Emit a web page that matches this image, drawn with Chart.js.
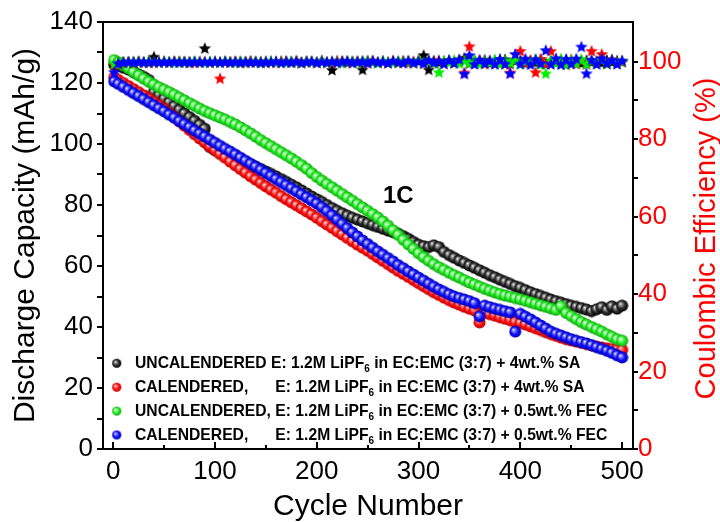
<!DOCTYPE html>
<html>
<head>
<meta charset="utf-8">
<script src="https://cdn.jsdelivr.net/npm/chart.js@4.4.1/dist/chart.umd.min.js"></script>
<style>
html,body{margin:0;padding:0;background:#fff;}
#wrap{width:720px;height:522px;}
</style>
</head>
<body>
<div id="wrap"><canvas id="c" width="720" height="522"></canvas></div>
<script>
// ---------------- DATA ----------------
const cycles = [
  1,5,10,15,20,25,30,35,40,45,
  50,55,60,65,70,75,80,85,90,95,
  100,105,110,115,120,125,130,135,140,145,
  150,155,160,165,170,175,180,185,190,195,
  200,205,210,215,220,225,230,235,240,245,
  250,255,260,265,270,275,280,285,290,295,
  300,305,310,315,320,325,330,335,340,345,
  350,355,360,365,370,375,380,385,390,395,
  400,405,410,415,420,425,430,435,440,445,
  450,455,460,465,470,475,480,485,490,495,
  500];

// Discharge capacity (mAh/g)
const capUncalSA = [
  126.0,125.6,125.0,124.4,123.6,122.8,122.0,121.0,117.0,116.0,
  114.8,113.6,112.4,111.2,110.0,108.8,107.6,106.3,105.0,99.0,
  98.0,97.3,96.6,95.9,95.2,94.6,94.0,93.3,92.6,91.8,
  91.0,90.2,89.4,88.5,87.6,86.7,85.8,84.8,83.8,82.8,
  81.9,81.0,80.0,79.0,78.1,77.3,76.5,75.8,75.2,74.6,
  74.0,73.4,72.8,72.2,71.6,71.1,70.6,69.8,68.9,67.9,
  67.0,66.5,66.2,66.8,66.2,64.6,63.6,62.7,61.8,61.0,
  60.2,59.4,58.6,57.8,57.0,56.3,55.5,54.8,54.1,53.4,
  52.8,52.1,51.4,50.8,50.2,49.6,49.0,48.5,48.0,47.5,
  47.0,46.6,46.2,45.7,45.2,45.8,46.5,45.6,46.8,46.0,
  47.0];
const capCalSA = [
  121.8,121.0,120.0,119.0,118.0,117.0,116.0,114.9,113.8,112.7,
  111.5,110.2,108.8,107.4,106.0,104.6,103.2,101.8,100.5,99.2,
  98.0,96.7,95.5,94.2,93.0,91.8,90.6,89.4,88.3,87.2,
  86.1,85.0,84.0,82.9,81.9,80.9,79.9,78.9,77.9,76.9,
  75.8,74.7,73.6,72.5,71.4,70.3,69.2,68.1,67.0,66.0,
  65.0,63.9,62.8,61.7,60.6,59.5,58.4,57.4,56.4,55.4,
  54.4,53.4,52.4,51.4,50.5,49.6,48.8,48.0,47.3,46.6,
  46.0,45.4,41.5,44.6,44.2,43.7,43.2,42.7,42.2,41.7,
  41.3,40.8,40.2,39.6,39.0,38.3,37.7,37.1,36.5,36.0,
  35.6,35.2,34.8,34.4,34.0,33.6,33.3,33.0,32.8,32.6,
  32.5];
const capUncalFEC = [
  127.5,126.8,125.8,124.8,123.6,122.5,121.4,120.4,119.5,118.6,
  117.8,117.0,116.1,115.2,114.3,113.4,112.5,111.6,110.8,110.1,
  109.4,108.7,108.0,107.2,106.4,105.5,104.5,103.5,102.4,101.3,
  100.3,99.3,98.3,97.3,96.3,95.3,94.2,93.1,91.9,90.5,
  89.2,88.0,86.9,85.8,84.7,83.6,82.5,81.4,80.3,79.2,
  78.1,77.0,75.9,74.6,73.2,71.7,70.2,68.6,67.1,65.6,
  64.2,62.9,61.7,60.6,59.6,58.7,57.8,57.0,56.2,55.4,
  54.6,53.9,53.2,52.5,51.9,51.3,50.8,50.3,49.9,49.5,
  49.1,48.6,48.1,47.6,47.1,46.6,46.1,45.6,46.8,44.6,
  43.6,42.6,41.6,40.8,40.0,39.3,38.5,37.6,36.8,36.0,
  35.5];
const capCalFEC = [
  120.5,119.7,118.7,117.7,116.7,115.7,114.7,113.7,112.7,111.7,
  110.7,109.6,108.6,107.5,106.5,105.5,104.4,103.4,102.4,101.4,
  100.4,99.4,98.4,97.5,96.5,95.5,94.5,93.5,92.5,91.5,
  90.5,89.5,88.5,87.5,86.5,85.5,84.5,83.5,82.5,81.5,
  80.5,79.3,78.0,76.6,75.2,73.8,72.4,71.0,69.7,68.4,
  67.2,66.0,64.8,63.7,62.6,61.5,60.3,59.3,58.2,57.2,
  56.2,55.2,54.2,53.2,52.3,51.5,50.7,50.0,49.5,49.0,
  48.5,47.8,43.5,47.0,46.5,46.0,45.6,45.2,44.8,38.5,
  44.3,43.4,42.5,41.5,40.5,39.5,38.5,37.8,37.2,36.6,
  36.0,35.5,35.0,34.6,34.0,33.4,32.8,32.2,31.5,30.7,
  30.0];

// Coulombic efficiency (%)
const ceUncalSA = [
  99.0,99.6,99.8,99.9,99.8,100.0,99.9,99.8,101.3,99.9,
  100.0,99.9,100.1,99.9,100.0,99.8,100.0,99.9,103.5,99.9,
  100.0,99.9,100.1,99.9,100.0,99.8,100.0,100.1,99.9,100.0,
  99.8,100.1,100.0,99.9,100.2,99.9,100.0,99.8,100.1,100.0,
  99.9,100.3,99.8,97.9,100.0,100.2,99.8,100.1,100.0,98.0,
  100.3,100.0,99.8,100.2,99.9,100.1,99.8,100.2,100.0,99.7,
  100.2,101.7,98.0,100.3,99.8,100.1,100.4,99.7,100.2,101.0,
  99.6,100.3,99.8,100.5,99.6,100.2,99.9,100.6,99.5,100.2,
  100.4,99.6,100.3,99.8,100.6,99.5,100.2,100.0,99.7,100.5,
  99.8,100.3,99.6,100.4,99.9,100.2,99.7,100.5,99.9,100.3,
  100.0];
const ceCalSA = [
  99.2,99.7,99.9,100.0,99.9,100.1,99.9,100.0,99.8,100.0,
  100.1,99.9,100.0,100.1,99.9,100.0,99.8,100.1,100.0,99.9,
  100.1,95.7,100.0,99.9,100.1,100.0,99.8,100.2,100.0,99.9,
  100.1,100.0,99.8,100.2,100.0,99.9,100.3,99.8,100.1,100.0,
  99.8,100.2,100.0,99.7,100.3,99.9,100.1,99.8,100.2,100.0,
  99.7,100.3,99.9,100.1,99.7,100.3,99.9,100.2,99.7,100.1,
  100.3,99.6,100.2,99.8,100.4,99.6,100.2,99.9,100.5,97.2,
  104.0,99.7,100.4,99.5,100.3,99.8,100.6,99.4,97.2,100.5,
  102.8,99.6,100.4,97.3,100.7,99.4,102.8,99.7,100.5,99.3,
  100.6,99.5,100.3,99.4,102.8,99.8,102.0,99.5,100.6,99.7,
  100.1];
const ceUncalFEC = [
  99.5,99.8,100.0,99.9,100.1,100.0,99.9,100.1,100.0,99.9,
  100.1,100.0,99.8,100.1,100.0,99.9,100.2,100.0,99.8,100.1,
  100.0,99.9,100.1,100.0,99.8,100.2,99.9,100.0,100.1,99.8,
  100.0,100.2,99.9,100.0,99.8,100.2,100.0,99.8,100.1,100.0,
  99.9,100.2,99.8,100.1,100.0,99.7,100.2,100.0,99.8,100.3,
  99.9,100.1,99.7,100.2,100.0,99.8,100.3,99.9,100.1,99.7,
  100.4,99.8,100.2,99.6,97.3,100.3,99.8,100.5,99.6,100.3,
  99.7,100.5,99.5,100.2,99.8,100.6,99.4,100.3,99.7,100.5,
  99.4,100.2,99.8,100.7,99.3,97.0,100.4,99.6,100.8,99.3,
  100.5,99.6,100.7,99.4,100.3,99.6,100.6,99.5,100.4,99.8,
  100.2];
const ceCalFEC = [
  97.3,99.6,99.9,100.0,99.9,100.0,99.9,100.0,100.0,99.9,
  100.0,99.9,100.0,99.9,100.0,99.9,100.0,99.9,100.0,99.9,
  100.0,99.9,100.0,99.9,100.0,99.9,100.0,99.9,100.0,99.8,
  100.0,99.9,100.1,99.8,100.0,99.9,100.1,99.8,100.0,100.1,
  99.8,100.0,99.9,100.1,99.8,100.0,100.2,99.8,100.0,100.1,
  99.7,100.2,99.9,100.0,99.7,100.2,100.0,99.7,100.3,99.8,
  100.1,99.6,100.4,99.8,100.2,99.5,100.4,99.7,100.6,96.9,
  101.7,99.4,100.5,99.6,100.3,99.4,100.7,99.5,97.0,102.0,
  99.5,100.8,99.3,100.6,99.6,103.0,99.4,100.9,99.3,100.7,
  99.5,100.8,103.9,97.0,100.5,99.4,100.9,99.6,100.5,99.4,
  100.3];

// Tick values and labels
const xTicks  = [0,50,100,150,200,250,300,350,400,450,500];
const xLabels = [0,100,200,300,400,500];
const yTicks  = [0,10,20,30,40,50,60,70,80,90,100,110,120,130,140];
const yLabels = [0,20,40,60,80,100,120,140];
const y1Ticks = [0,10,20,30,40,50,60,70,80,90,100];
const y1Labels= [0,20,40,60,80,100];

// Series text
const seriesTags = ['UNCALENDERED', 'CALENDERED,', 'UNCALENDERED,', 'CALENDERED,'];
const saltText   = ['E: 1.2M LiPF', '6', ' in EC:EMC (3:7) + '];
const additives  = ['4wt.% SA', '4wt.% SA', '0.5wt.% FEC', '0.5wt.% FEC'];
const rateLabel  = {text: '1C', x: 265, y: 80.7};

// ---------------- STYLE ----------------
const FONT = '"Liberation Sans", Arial, Helvetica, sans-serif';
const sphereColors = [
  {light:'#a0a0a0', base:'#303030', dark:'#000000'},
  {light:'#ff9090', base:'#ff1010', dark:'#c00000'},
  {light:'#a8ffa8', base:'#22ee22', dark:'#10a010'},
  {light:'#9090ff', base:'#1010ff', dark:'#0000b0'}
];
const starColors = ['#000000', '#ff0000', '#00ee00', '#0000ff'];

function makeSphere(c, r) {
  const s = Math.ceil(r * 2) + 1;
  const cv = document.createElement('canvas');
  cv.width = cv.height = s;
  const g = cv.getContext('2d');
  const m = s / 2;
  const grad = g.createRadialGradient(m - r * 0.35, m - r * 0.35, 0, m, m, r);
  grad.addColorStop(0, '#ffffff');
  grad.addColorStop(0.22, c.light);
  grad.addColorStop(0.6, c.base);
  grad.addColorStop(1, c.dark);
  g.fillStyle = grad;
  g.beginPath(); g.arc(m, m, r, 0, Math.PI * 2); g.fill();
  return cv;
}
function makeStar(color, r) {
  const s = Math.ceil(r * 2) + 1;
  const cv = document.createElement('canvas');
  cv.width = cv.height = s;
  const g = cv.getContext('2d');
  const m = s / 2;
  g.fillStyle = color;
  g.beginPath();
  for (let k = 0; k < 10; k++) {
    const rr = k % 2 === 0 ? r : r * 0.45;
    const a = -Math.PI / 2 + k * Math.PI / 5;
    const px = m + rr * Math.cos(a), py = m + 0.6 + rr * Math.sin(a);
    if (k === 0) g.moveTo(px, py); else g.lineTo(px, py);
  }
  g.closePath(); g.fill();
  return cv;
}
const spheres = sphereColors.map(c => makeSphere(c, 6));
const legendSpheres = sphereColors.map(c => makeSphere(c, 4.6));
const stars = starColors.map(c => makeStar(c, 6.5));

const capSeries = [capUncalSA, capCalSA, capUncalFEC, capCalFEC];
const ceSeries  = [ceUncalSA, ceCalSA, ceUncalFEC, ceCalFEC];
const toXY = arr => cycles.map((c, i) => ({x: c, y: arr[i]})).filter(p => p.y !== undefined);

const datasets = [];
capSeries.forEach((arr, i) => {
  datasets.push({
    label: seriesTags[i] + ' E: 1.2M LiPF\u2086 in EC:EMC (3:7) + ' + additives[i] + ' (capacity)',
    data: toXY(arr), yAxisID: 'y',
    pointStyle: spheres[i], pointRadius: 6, order: 7 - i
  });
});
ceSeries.forEach((arr, i) => {
  datasets.push({
    label: seriesTags[i] + ' E: 1.2M LiPF\u2086 in EC:EMC (3:7) + ' + additives[i] + ' (CE)',
    data: toXY(arr), yAxisID: 'y1',
    pointStyle: stars[i], pointRadius: 6, order: 3 - i
  });
});

const decor = {
  id: 'decor',
  afterDraw(chart) {
    const {ctx, chartArea: a, scales} = chart;
    ctx.save();
    ctx.strokeStyle = '#000'; ctx.lineWidth = 2;
    ctx.beginPath(); ctx.moveTo(a.left - 1, a.top); ctx.lineTo(a.right + 1, a.top); ctx.stroke();
    xTicks.forEach(v => {
      const px = Math.round(scales.x.getPixelForValue(v));
      const len = xLabels.includes(v) ? 7 : 4;
      ctx.beginPath(); ctx.moveTo(px, a.bottom); ctx.lineTo(px, a.bottom - len); ctx.stroke();
    });
    ctx.save();
    ctx.translate(a.right + 82, (a.top + a.bottom) / 2 + 3);
    ctx.rotate(-Math.PI / 2);
    ctx.font = '29px ' + FONT;
    ctx.fillStyle = '#ff0000';
    ctx.textAlign = 'center'; ctx.textBaseline = 'alphabetic';
    ctx.fillText('Coulombic Efficiency (%)', 0, 0);
    ctx.restore();
    ctx.font = 'bold 24px ' + FONT;
    ctx.fillStyle = '#000';
    ctx.textAlign = 'left'; ctx.textBaseline = 'alphabetic';
    ctx.fillText(rateLabel.text, scales.x.getPixelForValue(rateLabel.x), scales.y.getPixelForValue(rateLabel.y));
    const fMain = 'bold 15.7px ' + FONT, fSub = 'bold 10px ' + FONT;
    const textX = a.left + 32;
    const markX = a.left + 13.7;
    ctx.font = fMain;
    const colX = textX + ctx.measureText('UNCALENDERED, ').width;
    seriesTags.forEach((tag, i) => {
      const base = a.bottom - 80.7 + i * 23.9;
      const sp = legendSpheres[i];
      ctx.drawImage(sp, markX - sp.width / 2, base - 5 - sp.height / 2);
      ctx.font = fMain; ctx.fillStyle = '#000';
      let x;
      if (i === 0) {
        ctx.fillText(tag + ' ', textX, base);
        x = textX + ctx.measureText(tag + ' ').width;
      } else {
        ctx.fillText(tag, textX, base);
        x = colX;
      }
      ctx.fillText(saltText[0], x, base);
      x += ctx.measureText(saltText[0]).width;
      ctx.font = fSub;
      ctx.fillText(saltText[1], x, base + 3.5);
      x += ctx.measureText(saltText[1]).width;
      ctx.font = fMain;
      ctx.fillText(saltText[2] + additives[i], x, base);
    });
    ctx.restore();
  }
};

const tickFont = {family: FONT, size: 26};

new Chart(document.getElementById('c'), {
  type: 'scatter',
  data: {datasets},
  plugins: [decor],
  options: {
    responsive: false,
    devicePixelRatio: 1,
    animation: false,
    events: [],
    layout: {padding: {top: 22, left: 0, right: 0, bottom: 0}},
    plugins: {legend: {display: false}, tooltip: {enabled: false}},
    scales: {
      x: {
        type: 'linear', position: 'bottom', min: -10, max: 510.7,
        afterBuildTicks: s => { s.ticks = xTicks.map(v => ({value: v})); },
        afterFit: s => { s.height = 73; },
        grid: {display: false, drawTicks: false},
        border: {display: true, color: '#000', width: 2},
        ticks: {
          autoSkip: false, maxRotation: 0, padding: 7, color: '#000', font: tickFont,
          callback: v => xLabels.includes(v) ? String(v) : ''
        },
        title: {display: true, text: 'Cycle Number', color: '#000',
          font: {family: FONT, size: 30, lineHeight: 1.0}, padding: {top: 0, bottom: 0}}
      },
      y: {
        type: 'linear', position: 'left', min: 0, max: 140,
        afterBuildTicks: s => { s.ticks = yTicks.map(v => ({value: v})); },
        afterFit: s => { s.width = 103; },
        grid: {display: true, drawOnChartArea: false, drawTicks: true, tickLength: 6, color: '#000', lineWidth: 2},
        border: {display: true, color: '#000', width: 2},
        ticks: {
          autoSkip: false, padding: 4, color: '#000', font: tickFont,
          callback: v => yLabels.includes(v) ? String(v) : ''
        },
        title: {display: true, text: 'Discharge Capacity (mAh/g)', color: '#000',
          font: {family: FONT, size: 30}, padding: {top: 8, bottom: 0}}
      },
      y1: {
        type: 'linear', position: 'right', min: 0, max: 110.25,
        afterBuildTicks: s => { s.ticks = y1Ticks.map(v => ({value: v})); },
        afterFit: s => { s.width = 87; },
        grid: {display: true, drawOnChartArea: false, drawTicks: true, tickLength: 5, color: '#000', lineWidth: 2},
        border: {display: true, color: '#000', width: 2},
        ticks: {
          autoSkip: false, padding: 0, color: '#ff0000', font: tickFont,
          callback: v => y1Labels.includes(v) ? String(v) : ''
        }
      }
    }
  }
});
</script>
</body>
</html>
